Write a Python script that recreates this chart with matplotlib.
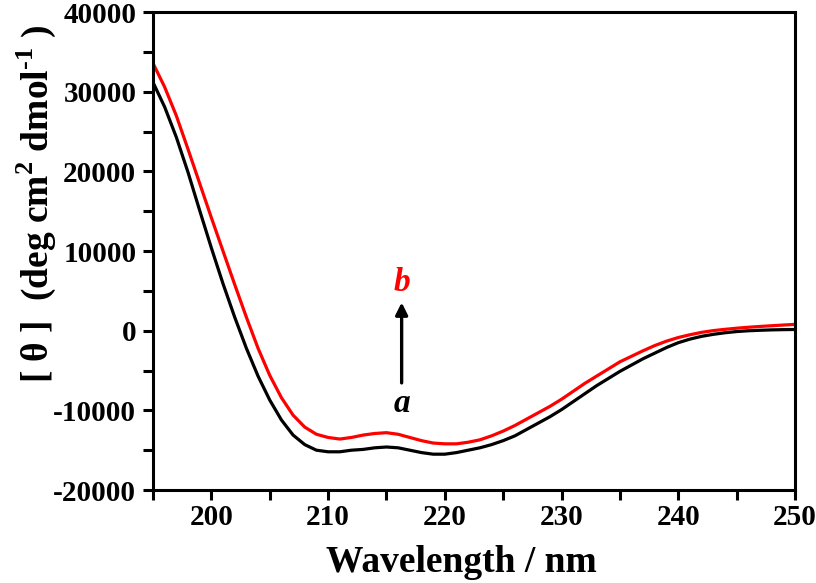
import numpy as np
import matplotlib
matplotlib.use('Agg')
import matplotlib.pyplot as plt
from matplotlib.ticker import MultipleLocator

# wavelength (nm) and mean residue ellipticity
wavelength = np.arange(195, 251)
theta_a = [31200, 28100, 24300, 19900, 15100, 10400, 5900, 1700, -2200, -5700,
           -8700, -11200, -13100, -14300, -15000, -15200, -15200, -15000, -14900, -14700,
           -14600, -14700, -15000, -15300, -15500, -15500, -15300, -15000, -14700, -14300,
           -13800, -13200, -12400, -11600, -10800, -9900, -8900, -7900, -6900, -6000,
           -5100, -4300, -3500, -2800, -2100, -1500, -1050, -700, -450, -250,
           -100, 0, 60, 110, 140, 160]
theta_b = [33600, 30600, 27000, 22800, 18500, 14200, 10000, 5800, 1700, -2200,
           -5600, -8400, -10600, -12100, -13000, -13400, -13600, -13400, -13100, -12900,
           -12800, -13000, -13400, -13800, -14100, -14200, -14200, -14000, -13700, -13200,
           -12600, -11900, -11100, -10300, -9500, -8600, -7600, -6600, -5700, -4800,
           -3900, -3200, -2500, -1850, -1300, -850, -500, -200, 20, 180,
           320, 440, 540, 630, 720, 800]

plt.rcParams['font.family'] = 'Liberation Serif'
plt.rcParams['font.weight'] = 'bold'
plt.rcParams['axes.unicode_minus'] = False
plt.rcParams['mathtext.fontset'] = 'custom'
plt.rcParams['mathtext.rm'] = 'Liberation Serif:bold'
plt.rcParams['mathtext.bf'] = 'Liberation Serif:bold'

fig = plt.figure(figsize=(8.16, 5.83), dpi=100)
ax = fig.add_axes([0.1875, 0.1595, 0.7868, 0.8195])

ax.plot(wavelength, theta_a, color='black', lw=2.3)
ax.plot(wavelength, theta_b, color='#ff0000', lw=2.3)

ax.set_xlim(195, 250)
ax.set_ylim(-20000, 40000)
ax.xaxis.set_major_locator(MultipleLocator(10))
ax.xaxis.set_minor_locator(MultipleLocator(5))
ax.yaxis.set_major_locator(MultipleLocator(10000))
ax.yaxis.set_minor_locator(MultipleLocator(5000))

for s in ax.spines.values():
    s.set_linewidth(2.2)
ax.tick_params(which='both', direction='out', width=2.2, length=7,
               top=False, right=False, labelsize=21, pad=3)
ax.tick_params(axis='y', pad=5)
for lab in ax.get_xticklabels() + ax.get_yticklabels():
    lab.set_fontweight('bold')

ax.set_xlabel('Wavelength / nm', fontsize=27, fontweight='bold')
ax.xaxis.set_label_coords(0.48, -0.115)
ax.set_ylabel('[ θ ]  (deg cm$^{2}$ dmol$^{\\text{-1}}$ )', fontsize=27, fontweight='bold')
ax.yaxis.set_label_coords(-0.148, 0.60)

# arrow with labels
ax.annotate('', xy=(216.3, 3900), xytext=(216.3, -6900),
            arrowprops=dict(arrowstyle='-|>', color='black', lw=2.4,
                            mutation_scale=18))
ax.text(216.3, 6000, 'b', color='#ff0000', fontsize=24, fontweight='bold',
        fontstyle='italic', ha='center', va='center')
ax.text(216.3, -9100, 'a', color='black', fontsize=24, fontweight='bold',
        fontstyle='italic', ha='center', va='center')

fig.savefig('out.png', dpi=100)
